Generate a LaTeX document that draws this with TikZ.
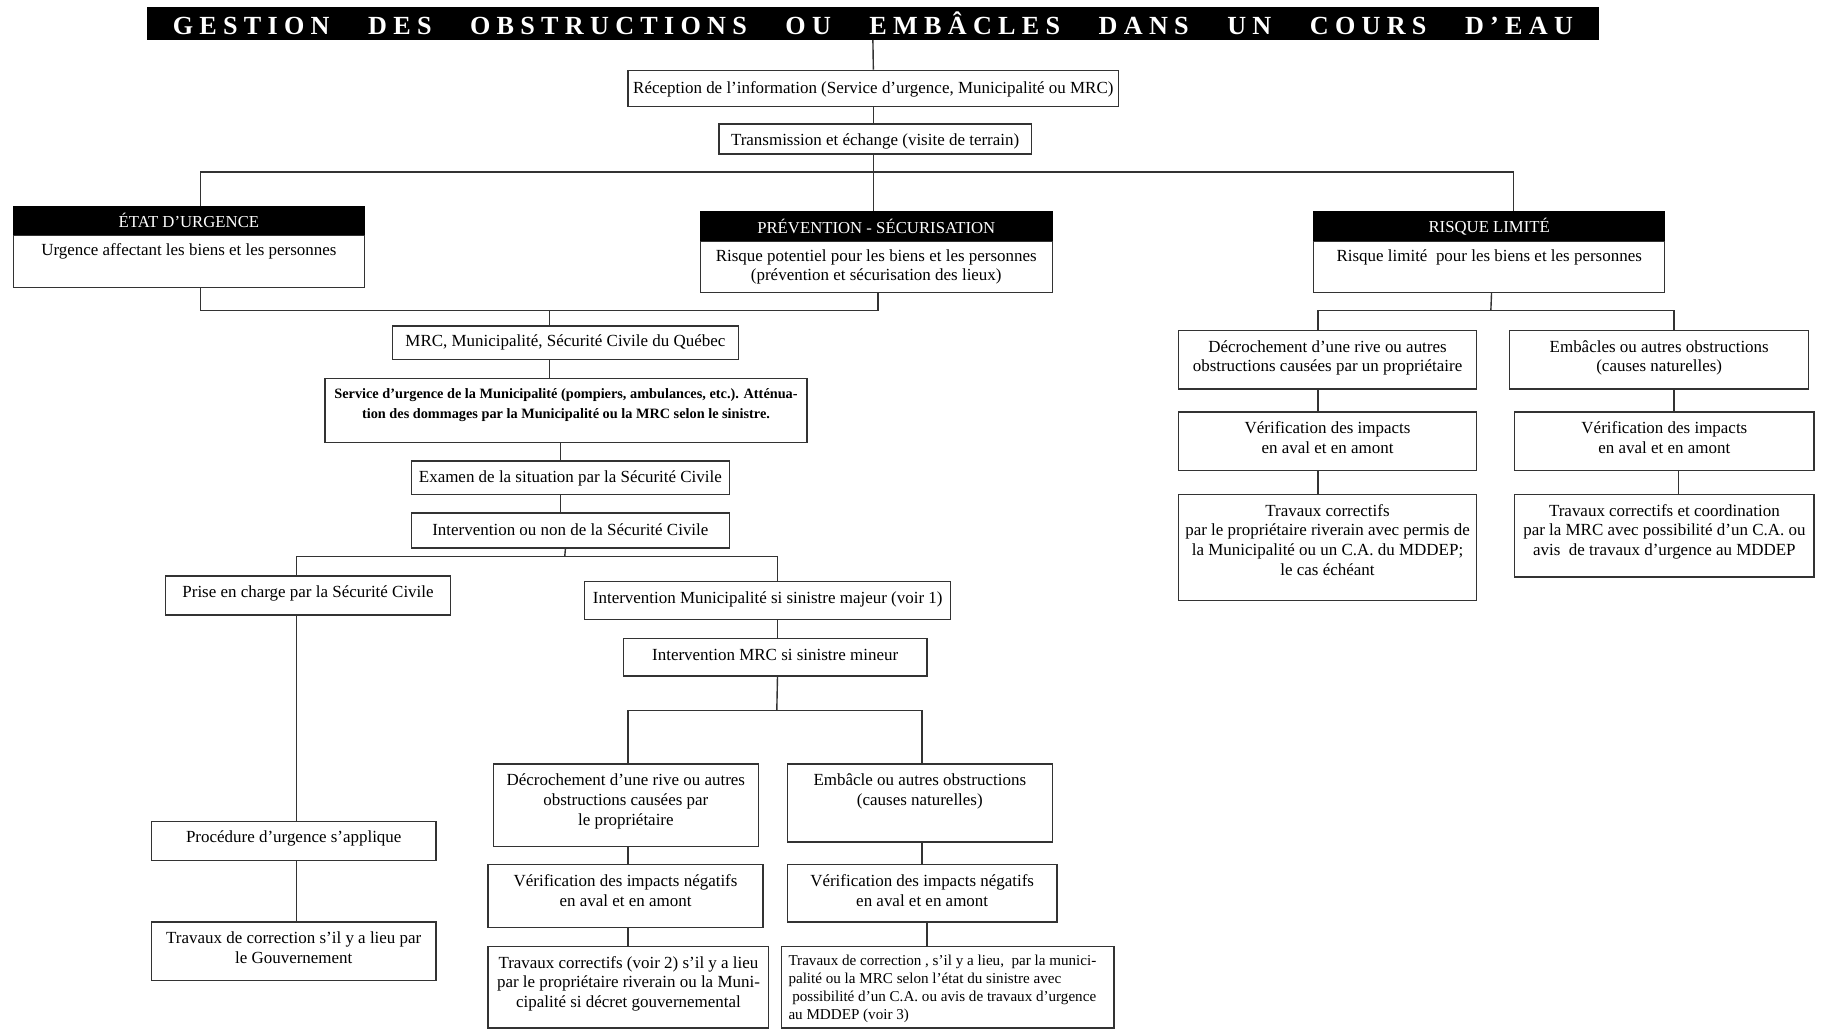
\documentclass[tikz,border=0pt]{standalone}
\usepackage{fontspec}
\setmainfont{Liberation Serif}
\newfontfamily\titlefont[LetterSpace=24]{Liberation Serif}
\newcommand{\bt}[4]{\begin{minipage}[c][#2pt][t]{#1pt}\centering\vspace*{#3pt}\rule{0pt}{13pt}#4\end{minipage}}
\tikzset{
  bx/.style={draw=black!80, line width=1.2pt, inner sep=0pt, anchor=north west, fill=white,
    font=\fontsize{14.6}{17}\selectfont},
  hdr/.style={draw=black, fill=black, text=white, line width=1.2pt, inner sep=0pt, anchor=north west,
    font=\fontsize{14.4}{17}\selectfont},
  ln/.style={draw=black!80, line width=1.2pt}
}
\begin{document}
\begin{tikzpicture}[x=1pt,y=-1pt]
\useasboundingbox[fill=white] (0,0) rectangle (1568,886);
% title
\node[fill=black, inner sep=0pt, minimum width=1250pt, minimum height=28pt, anchor=north west] (title) at (126,6)
  {\makebox[1205pt][s]{\color{white}\titlefont\bfseries\fontsize{22.5}{24}\selectfont GESTION DES OBSTRUCTIONS OU EMBÂCLES DANS UN COURS D’EAU}};
% top chain
\node[bx] (rec) at (540,60) {\bt{422}{31}{6.5}{Réception de l’information (Service d’urgence, Municipalité ou MRC)}};
\node[bx] (tra) at (618,106) {\bt{269}{26}{5.5}{Transmission et échange (visite de terrain)}};
% three categories
\node[hdr, minimum width=302pt, minimum height=25pt] (etath) at (11,177) {ÉTAT D'URGENCE};
\node[bx] (etatb) at (11,202) {\bt{302}{45}{4.5}{Urgence affectant les biens et les personnes}};
\node[hdr, minimum width=303pt, minimum height=25pt] (prevh) at (602,182) {PRÉVENTION - SÉCURISATION};
\node[bx] (prevb) at (602,207) {\bt{303}{44}{4.5}{\fontsize{14.6}{16}\selectfont Risque potentiel pour les biens et les personnes\\(prévention et sécurisation des lieux)}};
\node[hdr, minimum width=302pt, minimum height=25pt] (risqh) at (1130,182) {RISQUE LIMITÉ};
\node[bx] (risqb) at (1130,207) {\bt{302}{44}{4.5}{Risque limité\ \ pour les biens et les personnes}};
% middle column
\node[bx] (mrc) at (337,280) {\bt{298}{29}{4.5}{MRC, Municipalité, Sécurité Civile du Québec}};
\node[bx] (srv) at (279,325) {\bt{415}{55}{4.5}{\bfseries\fontsize{12.3}{17}\selectfont Service d’urgence de la Municipalité (pompiers, ambulances, etc.). Atténua-\\tion des dommages par la Municipalité ou la MRC selon le sinistre.}};
\node[bx] (exa) at (353.5,396) {\bt{273.5}{29}{5.5}{Examen de la situation par la Sécurité Civile}};
\node[bx] (int) at (353.5,441) {\bt{273.5}{30}{6.5}{Intervention ou non de la Sécurité Civile}};
\node[bx] (pri) at (142,495) {\bt{245}{33.5}{5.5}{Prise en charge par la Sécurité Civile}};
\node[bx] (imu) at (502.6,500) {\bt{315}{32.5}{5.5}{Intervention Municipalité si sinistre majeur (voir 1)}};
\node[bx] (imrc) at (536,549) {\bt{261}{32}{5.5}{Intervention MRC si sinistre mineur}};
\node[bx] (proc) at (129.7,706.6) {\bt{245}{33.4}{5}{Procédure d’urgence s’applique}};
\node[bx] (tgov) at (129.7,793) {\bt{245}{50}{5.5}{Travaux de correction s’il y a lieu par\\le Gouvernement}};
\node[bx] (dec1) at (424,657) {\bt{228}{71}{5.5}{Décrochement d’une rive ou autres\\obstructions causées par\\le propriétaire}};
\node[bx] (emb1) at (677,657) {\bt{228}{67}{5.5}{Embâcle ou autres obstructions\\(causes naturelles)}};
\node[bx] (ver1) at (419.5,743.5) {\bt{236.5}{54}{6}{Vérification des impacts négatifs\\en aval et en amont}};
\node[bx] (ver2) at (677,743.5) {\bt{232}{49.5}{6}{Vérification des impacts négatifs\\en aval et en amont}};
\node[bx] (tc1) at (419.5,814) {\bt{241.5}{70}{5.5}{Travaux correctifs (voir 2) s’il y a lieu\\par le propriétaire riverain ou la Muni-\\cipalité si décret gouvernemental}};
\node[bx] (tc2) at (672,814) {\begin{minipage}[c][70pt][t]{286pt}\raggedright\leftskip=6pt\fontsize{13}{15.5}\selectfont\vspace*{4pt}\rule{0pt}{12pt}Travaux de correction , s’il y a lieu,\ \ par la munici-\\palité ou la MRC selon l’état du sinistre avec\\\ possibilité d’un C.A. ou avis de travaux d’urgence\\au MDDEP (voir 3)\end{minipage}};
% right column
\node[bx] (dec2) at (1013.7,284) {\bt{256.3}{50}{5.5}{Décrochement d’une rive ou autres\\obstructions causées par un propriétaire}};
\node[bx] (emb2) at (1298.6,284) {\bt{257.4}{50}{5.5}{Embâcles ou autres obstructions\\(causes naturelles)}};
\node[bx] (ver3) at (1013.7,354) {\bt{256.3}{50.5}{5.5}{Vérification des impacts\\en aval et en amont}};
\node[bx] (ver4) at (1303,354) {\bt{257.5}{50.5}{5.5}{Vérification des impacts\\en aval et en amont}};
\node[bx] (tc3) at (1013.7,425) {\bt{256.3}{91}{5.5}{Travaux correctifs\\par le propriétaire riverain avec permis de\\la Municipalité ou un C.A. du MDDEP;\\le cas échéant}};
\node[bx] (tc4) at (1303,425) {\bt{257.5}{71}{5.5}{Travaux correctifs et coordination\\par la MRC avec possibilité d’un C.A. ou\\avis\ \ de travaux d’urgence au MDDEP}};
% junctions
\coordinate (j1) at (751,148);
\coordinate (j2) at (473,267);
\coordinate (j3) at (486,479);
\coordinate (j4) at (668.5,611.6);
\coordinate (j5) at (1283,267.4);
% connectors
\draw[ln] (title.south) -- (rec.north);
\draw[ln] (rec.south) -- (rec.south |- tra.north);
\draw[ln] (rec.south |- tra.south) -- (rec.south |- prevh.north);
\draw[ln] ([xshift=10pt]etath.north) |- (j1) -| ([xshift=21pt]risqh.north);
\draw[ln] ([xshift=10pt]etatb.south) |- (j2) -| ([xshift=1.5pt]prevb.south);
\draw[ln] (j2) -- (j2 |- mrc.north);
\draw[ln] (j2 |- mrc.south) -- (j2 |- srv.north);
\draw[ln] ([xshift=-4.5pt]srv.south) -- ([xshift=-4.5pt]srv.south |- exa.north);
\draw[ln] ([xshift=-8.25pt]exa.south) -- ([xshift=-8.25pt]int.north);
\draw[ln] ([xshift=-4.25pt]int.south) -- (j3);
\draw[ln] ([xshift=-10pt]pri.north) |- (j3) -| ([xshift=8.4pt]imu.north);
\draw[ln] ([xshift=-10pt]pri.south) -- ([xshift=-10pt]pri.south |- proc.north);
\draw[ln] ([xshift=-10pt]pri.south |- proc.south) -- ([xshift=-10pt]pri.south |- tgov.north);
\draw[ln] ([xshift=8.4pt]imu.south) -- ([xshift=8.4pt]imu.south |- imrc.north);
\draw[ln] ([xshift=2pt]imrc.south) -- (j4);
\draw[ln] ([xshift=2pt]dec1.north) |- (j4) -| ([xshift=2pt]emb1.north);
\draw[ln] ([xshift=2pt]dec1.south) -- ([xshift=2pt]dec1.south |- ver1.north);
\draw[ln] ([xshift=2pt]dec1.south |- ver1.south) -- ([xshift=2pt]dec1.south |- tc1.north);
\draw[ln] ([xshift=2pt]emb1.south) -- ([xshift=2pt]emb1.south |- ver2.north);
\draw[ln] ([xshift=4pt]ver2.south) -- ([xshift=4pt]ver2.south |- tc2.north);
\draw[ln] ([xshift=2pt]risqb.south) -- (j5);
\draw[ln] ([xshift=-8.35pt]dec2.north) |- (j5) -| ([xshift=12.7pt]emb2.north);
\draw[ln] ([xshift=-8.35pt]dec2.south) -- ([xshift=-8.35pt]dec2.south |- ver3.north);
\draw[ln] ([xshift=-8.35pt]dec2.south |- ver3.south) -- ([xshift=-8.35pt]dec2.south |- tc3.north);
\draw[ln] ([xshift=12.7pt]emb2.south) -- ([xshift=12.7pt]emb2.south |- ver4.north);
\draw[ln] ([xshift=12.25pt]ver4.south) -- ([xshift=12.25pt]ver4.south |- tc4.north);
\end{tikzpicture}
\end{document}
